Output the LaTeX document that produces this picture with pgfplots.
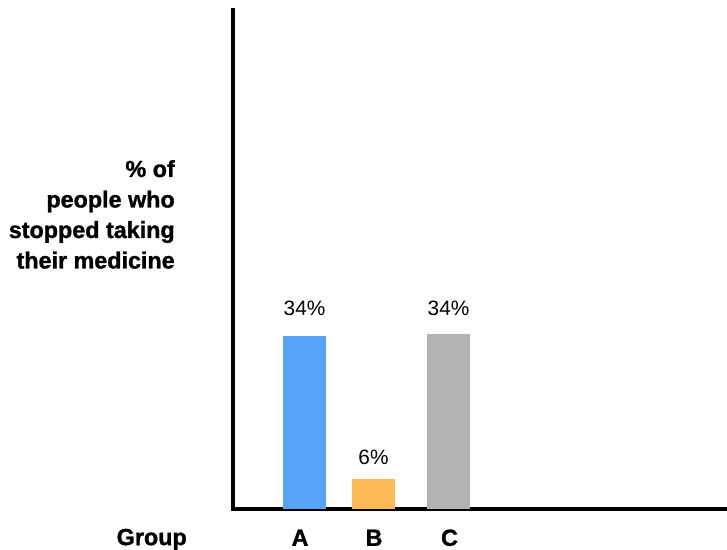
\documentclass[border=0pt]{standalone}
\usepackage{pgfplots}
\pgfplotsset{compat=1.18}
\usepackage{fontspec}
\setmainfont{Liberation Sans}[BoldFeatures={FakeBold=1.2}]
\definecolor{barA}{HTML}{57A3F5}
\definecolor{barB}{HTML}{FDBA55}
\definecolor{barC}{HTML}{B3B3B3}
\begin{document}
\begin{tikzpicture}
\useasboundingbox (0,0) rectangle (545.25pt,411.75pt);
\begin{axis}[
  at={(174.4pt,30pt)}, anchor=south west,
  width=370.85pt, height=374.25pt, scale only axis,
  xmin=232.5, xmax=727, ymin=0, ymax=99.6,
  enlargelimits=false, clip=false,
  axis x line=bottom, axis y line=left,
  axis line style={-, line width=3pt, black, line cap=rect},
  ytick=\empty,
  xtick={300,374,449.5}, xticklabels={A,B,C},
  major tick length=0pt,
  xticklabel style={font=\bfseries\fontsize{17.5pt}{20pt}\selectfont, anchor=base, inner sep=0pt, yshift=-27.6pt},
  ybar, bar width=43, bar shift=0pt,
  point meta=explicit symbolic,
  nodes near coords,
  every node near coord/.append style={font=\fontsize{15.6pt}{18pt}\selectfont, anchor=base, text=black},
]
\addplot[fill=barA, draw=none, every node near coord/.append style={yshift=15.75pt}] coordinates {(304.5,34.5) [34\%]};
\addplot[fill=barB, draw=none, every node near coord/.append style={yshift=10.5pt}] coordinates {(373.5,6.0) [6\%]};
\addplot[fill=barC, draw=none, every node near coord/.append style={yshift=14.25pt}] coordinates {(448.5,34.9) [34\%]};
\end{axis}
\begin{scope}[every node/.style={font=\bfseries\fontsize{17.5pt}{20pt}\selectfont, anchor=base east, inner sep=0pt}]
\node at (131.25pt,279pt) {\% of};
\node at (131.25pt,256.125pt) {people who};
\node at (131.25pt,233.25pt) {stopped taking};
\node at (131.25pt,210.375pt) {their medicine};
\node at (140.25pt,2.9pt) {Group};
\end{scope}
\end{tikzpicture}
\end{document}
